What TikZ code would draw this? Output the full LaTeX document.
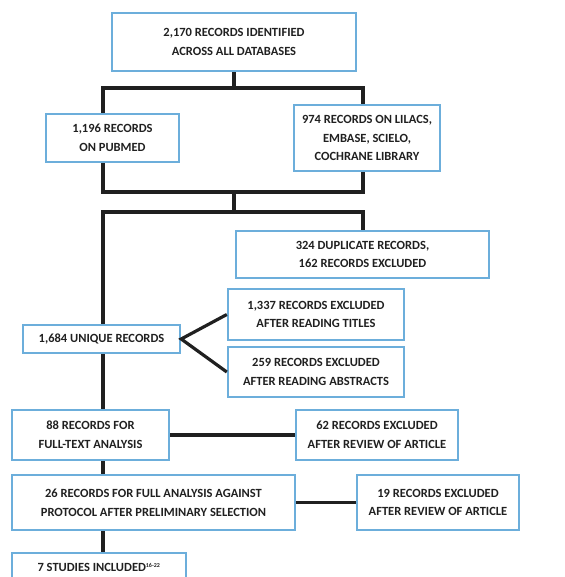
\documentclass[tikz,border=0pt]{standalone}
\usepackage{fontspec}
\setmainfont{Carlito}
\definecolor{boxblue}{RGB}{108,174,219}
\definecolor{inkgray}{RGB}{32,32,32}
\begin{document}
\begin{tikzpicture}[x=1pt,y=-1pt,
flowbox/.style={draw=boxblue,rectangle,line width=2.4pt,inner sep=0pt,align=center,
  text=inkgray,font=\fontsize{12.5}{18.6}\selectfont\bfseries},
link/.style={line width=3.2pt,draw=inkgray}]

\useasboundingbox (0,0) rectangle (564,577);

\draw (234,42) node[flowbox,minimum width=244,minimum height=58] (top) {2,170 RECORDS IDENTIFIED\\ACROSS ALL DATABASES};
\draw (112.5,138) node[flowbox,minimum width=133,minimum height=48] (pubmed) {1,196 RECORDS\\ON PUBMED};
\draw (367,138) node[flowbox,minimum width=146,minimum height=66] (others) {974 RECORDS ON LILACS,\\EMBASE, SCIELO,\\COCHRANE LIBRARY};
\draw (362.5,254.5) node[flowbox,minimum width=253,minimum height=47] (dupl) {324 DUPLICATE RECORDS,\\162 RECORDS EXCLUDED};
\draw (316,314.5) node[flowbox,minimum width=176,minimum height=51] (titles) {1,337 RECORDS EXCLUDED\\AFTER READING TITLES};
\draw (316,372) node[flowbox,minimum width=176,minimum height=50] (abstr) {259 RECORDS EXCLUDED\\AFTER READING ABSTRACTS};
\draw (101.5,339) node[flowbox,minimum width=157,minimum height=28] (unique) {1,684 UNIQUE RECORDS};
\draw (90.5,435) node[flowbox,minimum width=157,minimum height=50] (fulltext) {88 RECORDS FOR\\FULL-TEXT ANALYSIS};
\draw (377,435) node[flowbox,minimum width=162,minimum height=50] (excla) {62 RECORDS EXCLUDED\\AFTER REVIEW OF ARTICLE};
\draw (153.5,502.5) node[flowbox,minimum width=283,minimum height=55] (protocol) {26 RECORDS FOR FULL ANALYSIS AGAINST\\PROTOCOL AFTER PRELIMINARY SELECTION};
\draw (438,502.5) node[flowbox,minimum width=162,minimum height=55] (exclb) {19 RECORDS EXCLUDED\\AFTER REVIEW OF ARTICLE};
\draw (99,567.5) node[flowbox,minimum width=174,minimum height=29] (studies) {7 STUDIES INCLUDED\textsuperscript{\fontsize{6}{6}\selectfont 16-22}};

% spine and junction points
\coordinate (lx) at (103,0);
\coordinate (rx) at (363,0);
\coordinate (j1) at (234,88);
\coordinate (j2) at (234,192);
\coordinate (j3) at (234,212);

\draw[link] (top.south) -- (j1);
\draw[link] (pubmed.north -| lx) |- (j1) -| (others.north -| rx);
\draw[link] (pubmed.south -| lx) |- (j2) -| (others.south -| rx);
\draw[link] (j2) -- (j3);
\draw[link] (unique.north -| lx) |- (j3) -| (dupl.north -| rx);
\draw[link] (titles.west) -- (unique.east) -- (abstr.west);
\draw[link] (unique.south -| lx) -- (fulltext.north -| lx);
\draw[link] (fulltext.east) -- (excla.west);
\draw[link] (fulltext.south -| lx) -- (protocol.north -| lx);
\draw[link] (protocol.east) -- (exclb.west);
\draw[link] (protocol.south -| lx) -- (studies.north -| lx);

\end{tikzpicture}
\end{document}
